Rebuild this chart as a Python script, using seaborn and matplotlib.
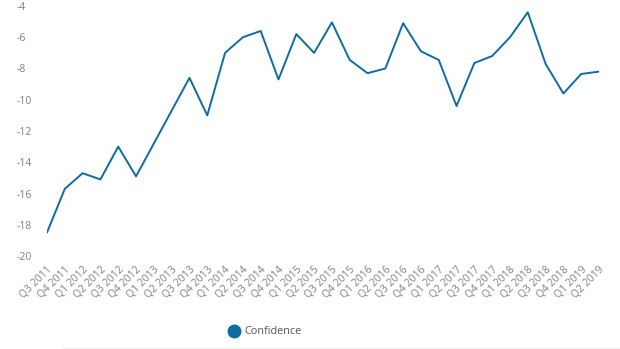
import matplotlib
matplotlib.use("Agg")
import matplotlib.pyplot as plt
from matplotlib.lines import Line2D
import seaborn as sns
import pandas as pd

quarters = ["Q3 2011", "Q4 2011",
            "Q1 2012", "Q2 2012", "Q3 2012", "Q4 2012",
            "Q1 2013", "Q2 2013", "Q3 2013", "Q4 2013",
            "Q1 2014", "Q2 2014", "Q3 2014", "Q4 2014",
            "Q1 2015", "Q2 2015", "Q3 2015", "Q4 2015",
            "Q1 2016", "Q2 2016", "Q3 2016", "Q4 2016",
            "Q1 2017", "Q2 2017", "Q3 2017", "Q4 2017",
            "Q1 2018", "Q2 2018", "Q3 2018", "Q4 2018",
            "Q1 2019", "Q2 2019"]
confidence = [-18.5, -15.7, -14.7, -15.1, -13.0, -14.9,
              -12.8, -10.7, -8.6, -11.0,
              -7.0, -6.0, -5.6, -8.7,
              -5.8, -7.0, -5.05, -7.45,
              -8.3, -8.0, -5.1, -6.9,
              -7.45, -10.4, -7.65, -7.2,
              -6.0, -4.4, -7.7, -9.6,
              -8.35, -8.2]
y_ticks = [-20, -18, -16, -14, -12, -10, -8, -6, -4]

line_color = "#0f6ca3"
text_color = "#808080"

df = pd.DataFrame({"pos": range(len(quarters)), "quarter": quarters, "Confidence": confidence})

sns.set_style("white")
plt.rcParams["font.family"] = ["Open Sans", "DejaVu Sans"]

fig = plt.figure(figsize=(6.2, 3.49), dpi=100)
ax = fig.add_axes([47 / 620, 1 - 256 / 349, 552 / 620, 250 / 349])

sns.lineplot(data=df, x="pos", y="Confidence", color=line_color, linewidth=1.4, ax=ax)

ax.set_xlim(0, len(quarters) - 1)
ax.set_ylim(-20, -4)
ax.set_xticks(range(len(quarters)))
ax.set_xticklabels(quarters, rotation=45, ha="right", rotation_mode="anchor",
                   fontsize=7.5, color=text_color)
ax.set_yticks(y_ticks)
ax.set_yticklabels([str(v) for v in y_ticks], fontsize=7.5, color=text_color, ha="left")
ax.tick_params(axis="y", length=0, pad=22)
ax.tick_params(axis="x", length=0, pad=6)
ax.set_xlabel("")
ax.set_ylabel("")
for s in ax.spines.values():
    s.set_visible(False)

handle = Line2D([], [], linestyle="none", marker="o", markersize=9,
                markerfacecolor=line_color, markeredgecolor=line_color)
fig.legend([handle], ["Confidence"], loc="center", bbox_to_anchor=(265 / 620, 1 - 332 / 349),
           frameon=False, fontsize=7.8, labelcolor="#555555", handletextpad=0.4,
           handlelength=1.0)

fig.add_artist(Line2D([63 / 620, 1.0], [1 - 347.5 / 349] * 2, color="#eeeeee", linewidth=1.0))

fig.savefig("out.png", dpi=100)
